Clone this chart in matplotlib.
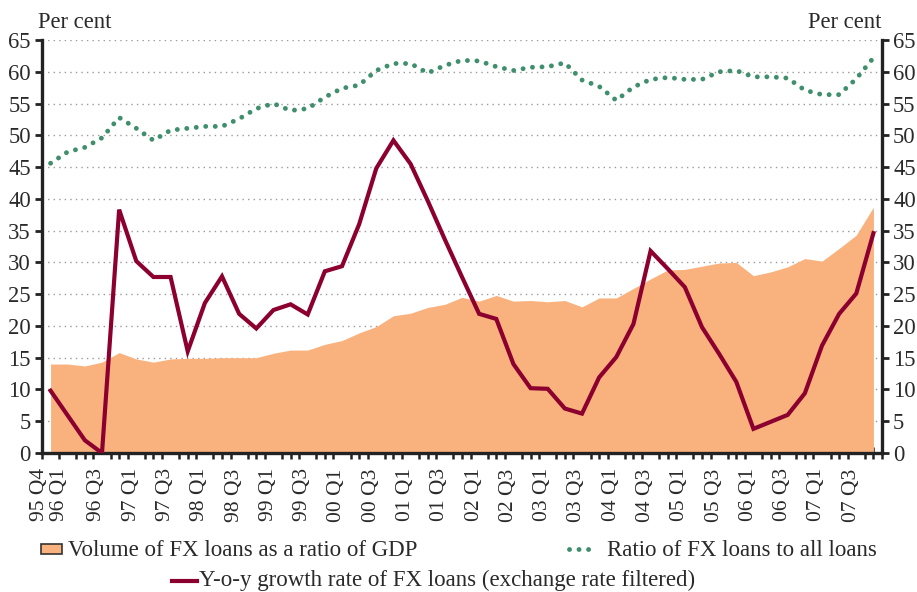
import numpy as np
import matplotlib
matplotlib.use("Agg")
import matplotlib.pyplot as plt
from matplotlib.patches import Rectangle
from matplotlib.lines import Line2D
from matplotlib.transforms import ScaledTranslation

plt.rcParams["font.family"] = ["Liberation Serif", "DejaVu Serif"]

# quarters 95 Q4 .. 07 Q4
quarters = [f"{(95 + (q + 3) // 4) % 100:02d} Q{(q + 3) % 4 + 1}" for q in range(49)]
label_idx = [0] + list(range(1, 49, 2))

gdp_ratio = [14.0, 14.0, 13.7, 14.3, 15.8, 14.8, 14.3, 14.8, 14.9, 14.9,
             15.0, 15.0, 15.0, 15.7, 16.2, 16.2, 17.1, 17.7, 18.9, 19.9,
             21.6, 22.0, 22.9, 23.4, 24.5, 23.9, 24.8, 23.9, 24.0, 23.8,
             24.0, 23.0, 24.4, 24.4, 25.9, 27.4, 28.8, 28.9, 29.4, 29.9,
             30.0, 27.9, 28.5, 29.3, 30.6, 30.2, 32.2, 34.3, 38.7]

loan_ratio = [45.6, 47.4, 48.1, 49.6, 52.8, 51.1, 49.2, 50.8, 51.1, 51.4,
              51.4, 52.6, 54.2, 55.0, 53.9, 54.2, 56.0, 57.4, 57.9, 60.2,
              61.3, 61.3, 59.8, 61.0, 61.8, 61.7, 60.8, 60.2, 60.7, 60.8,
              61.4, 58.7, 57.7, 55.5, 57.6, 58.8, 59.1, 58.8, 58.8, 60.0,
              60.2, 59.2, 59.2, 59.0, 57.1, 56.4, 56.4, 58.9, 62.2]

growth = [9.8, 5.9, 2.0, 0.0, 38.3, 30.2, 27.7, 27.7, 16.0, 23.6,
          27.8, 21.9, 19.6, 22.5, 23.4, 21.8, 28.6, 29.4, 36.0, 44.8,
          49.2, 45.5, 39.7, 33.6, 27.7, 21.9, 21.1, 14.0, 10.2, 10.1,
          7.0, 6.2, 11.9, 15.1, 20.3, 31.8, 29.0, 26.1, 19.8, 15.6,
          11.2, 3.8, 4.9, 6.0, 9.4, 16.9, 21.9, 25.1, 34.6]

ORANGE = "#F9B27E"
GREEN = "#3F8F6C"
RED = "#8C0030"
TEXT = "#2a2a2a"
W, H = 917, 592
DOTS = (0, (0.01, 1.95))

fig = plt.figure(figsize=(W / 100, H / 100), dpi=100)
ax = fig.add_axes([42 / W, 1 - 453 / H, 840 / W, 413 / H])

x = np.arange(len(quarters))
ax.fill_between(x, 0, gdp_ratio, color=ORANGE, lw=0, zorder=2)
ax.plot(x, loan_ratio, color=GREEN, lw=3.5, linestyle=DOTS,
        dash_capstyle="round", solid_capstyle="round", zorder=3)
ax.plot(x, growth, color=RED, lw=3.0, solid_joinstyle="miter", zorder=4)

ax.set_xlim(-0.5, 48.5)
ax.set_ylim(0, 65)
ax.set_yticks(np.arange(0, 66, 5))
for v in range(5, 66, 5):
    ax.axhline(v, color="#9a9a9a", lw=1.0, linestyle=(0, (1, 3)), zorder=1)

ax.spines["top"].set_visible(False)
for side in ["left", "right", "bottom"]:
    ax.spines[side].set_linewidth(2.4)
    ax.spines[side].set_color("#222222")

ax.tick_params(axis="y", which="major", direction="out", length=5, width=2,
               color="#222222", labelsize=16.3, labelcolor=TEXT, pad=3,
               left=True, right=True, labelleft=True, labelright=True)

ax.set_xticks(np.arange(-0.5, 49, 0.5), minor=True)
ax.set_xticks(label_idx)
ax.set_xticklabels([quarters[i] for i in label_idx], rotation=90, va="top")
ax.tick_params(axis="x", which="minor", direction="inout", length=9, width=1.8, color="#222222")
ax.tick_params(axis="x", which="major", length=0, labelsize=15.5, labelcolor=TEXT, pad=11)
shifts = [-11, -8.5] + [-5] * (len(label_idx) - 2)
for lab, dx in zip(ax.get_xticklabels(), shifts):
    lab.set_transform(lab.get_transform() + ScaledTranslation(dx / 100, 0, fig.dpi_scale_trans))

fig.text(38 / W, 1 - 22 / H, "Per cent", fontsize=16.3, color=TEXT, ha="left", va="center")
fig.text(882 / W, 1 - 22 / H, "Per cent", fontsize=16.3, color=TEXT, ha="right", va="center")

# legend, drawn by hand
fig.add_artist(Rectangle((41 / W, 1 - 554 / H), 21 / W, 10 / H, transform=fig.transFigure,
                         facecolor=ORANGE, edgecolor="#333333", lw=1.2))
fig.text(68 / W, 1 - 550 / H, "Volume of FX loans as a ratio of GDP", fontsize=16.5,
         color=TEXT, ha="left", va="center")
fig.add_artist(Line2D([569 / W, 590 / W], [1 - 549 / H] * 2, transform=fig.transFigure,
                      color=GREEN, lw=3.5, linestyle=DOTS, dash_capstyle="round"))
fig.text(607 / W, 1 - 550 / H, "Ratio of FX loans to all loans", fontsize=16.5,
         color=TEXT, ha="left", va="center")
fig.add_artist(Line2D([172 / W, 197 / W], [1 - 580.5 / H] * 2, transform=fig.transFigure,
                      color=RED, lw=3.0))
fig.text(199 / W, 1 - 580 / H, "Y-o-y growth rate of FX loans (exchange rate filtered)",
         fontsize=16.5, color=TEXT, ha="left", va="center")

fig.savefig("out.png", dpi=100, facecolor="white")
